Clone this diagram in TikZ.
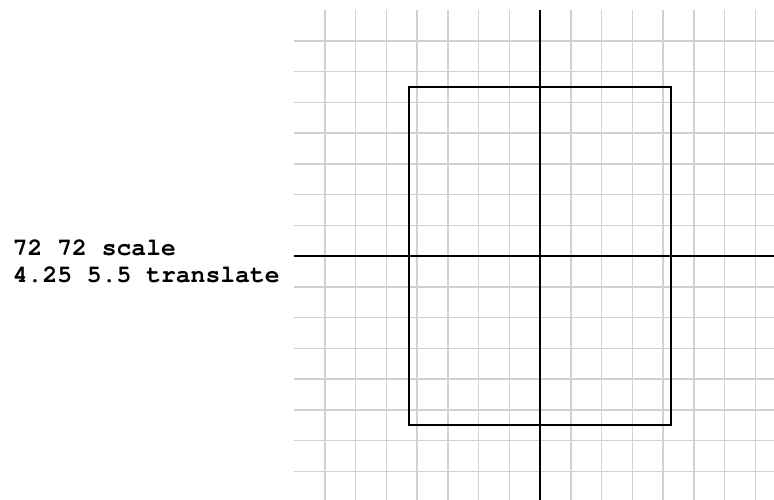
\documentclass[tikz,border=0pt]{standalone}
\usepackage{fontspec}
\newfontfamily\codefont{TeX Gyre Cursor}
\tikzset{
  gridline/.style={draw=black!18, line width=1.5pt},
  axisline/.style={draw=black, line width=2pt},
  pagebox/.style={draw=black, line width=2pt},
  codetext/.style={font=\codefont\bfseries\fontsize{24.7pt}{26.6pt}\selectfont, inner sep=0pt, anchor=base west}
}
\begin{document}
\begin{tikzpicture}[x=1pt,y=-1pt]
\useasboundingbox (0,0) rectangle (774,499);
\clip (0,0) rectangle (774,499);
\foreach \k in {-7,...,7} {
  \draw[gridline] (540+30.75*\k,10) -- (540+30.75*\k,502);
  \draw[gridline] (294,256+30.75*\k) -- (786,256+30.75*\k);
}
\coordinate (vtop) at (540,10);
\coordinate (vbot) at (540,502);
\coordinate (hleft) at (294,256);
\coordinate (hright) at (786,256);
\draw[axisline] (vtop) -- (vbot);
\draw[axisline] (hleft) -- (hright);
\coordinate (pnw) at (409.3,86.9);
\coordinate (pse) at (670.7,425.1);
\draw[pagebox] (pnw) rectangle (pse);
\node[codetext] (line1) at (12.7,255.7) {72 72 scale};
\node[codetext] (line2) at (12.7,282.3) {4.25 5.5 translate};
\end{tikzpicture}
\end{document}
